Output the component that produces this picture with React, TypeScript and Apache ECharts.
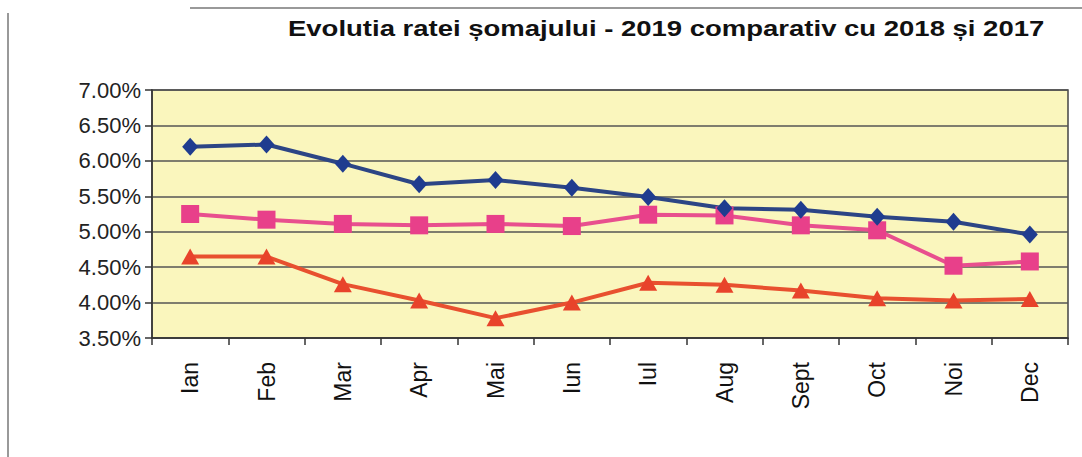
import React, { useEffect, useRef } from "react";
import * as echarts from "echarts";

const months = ["Ian", "Feb", "Mar", "Apr", "Mai", "Iun", "Iul", "Aug", "Sept", "Oct", "Noi", "Dec"];
const rate2019 = [6.2, 6.23, 5.96, 5.67, 5.73, 5.62, 5.49, 5.33, 5.31, 5.21, 5.14, 4.96];
const rate2018 = [5.25, 5.17, 5.11, 5.09, 5.11, 5.08, 5.24, 5.23, 5.09, 5.02, 4.52, 4.58];
const rate2017 = [4.65, 4.65, 4.26, 4.03, 3.78, 4.0, 4.28, 4.25, 4.17, 4.06, 4.03, 4.05];
const yTicks = { min: 3.5, max: 7.0, step: 0.5 };
const titleText = "Evolutia ratei șomajului - 2019 comparativ cu 2018 și 2017";

const FONT = "'Liberation Sans', Arial, Helvetica, sans-serif";

export default function App() {
  const ref = useRef<HTMLDivElement>(null);
  useEffect(() => {
    if (!ref.current) return;
    const chart = echarts.init(ref.current, null, { renderer: "svg" });
    const mkSeries = (name: string, data: number[], color: string, lineColor: string, symbol: string, size: number | number[]) => ({
      name,
      type: "line",
      data,
      symbol,
      symbolSize: size,
      showSymbol: true,
      lineStyle: { color: lineColor, width: 4 },
      itemStyle: { color, borderWidth: 0 },
      z: 3,
    });
    chart.setOption({
      animation: false,
      backgroundColor: "#ffffff",
      grid: { left: 152, right: 14, top: 90, bottom: 119, show: true, backgroundColor: "#faf6bd", borderColor: "#444", borderWidth: 1.5 },
      xAxis: {
        type: "category",
        data: months,
        boundaryGap: true,
        axisLine: { lineStyle: { color: "#333", width: 1.5 } },
        axisTick: { show: true, length: 7, alignWithLabel: false, lineStyle: { color: "#333", width: 1.5 } },
        axisLabel: { rotate: 90, margin: 24, fontFamily: FONT, fontSize: 23, color: "#111", interval: 0 },
      },
      yAxis: {
        type: "value",
        min: yTicks.min,
        max: yTicks.max,
        interval: yTicks.step,
        axisLine: { show: true, lineStyle: { color: "#333", width: 1.5 } },
        axisTick: { show: true, length: 7, lineStyle: { color: "#333", width: 1.5 } },
        splitLine: { show: true, lineStyle: { color: "#555", width: 1.5 } },
        axisLabel: {
          fontFamily: FONT,
          fontSize: 22,
          color: "#222",
          margin: 11,
          formatter: (v: number) => v.toFixed(2) + "%",
        },
      },
      series: [
        mkSeries("2017", rate2017, "#e8432b", "#e8502f", "triangle", [18, 16]),
        mkSeries("2018", rate2018, "#e8408a", "#e84f8e", "rect", 18),
        mkSeries("2019", rate2019, "#1f3c8f", "#2c4585", "diamond", [16, 18]),
      ],
      graphic: [
        { type: "line", shape: { x1: 8, y1: 13, x2: 8, y2: 457 }, style: { stroke: "#777", lineWidth: 1.5 } },
        { type: "line", shape: { x1: 190, y1: 8, x2: 1082, y2: 8 }, style: { stroke: "#777", lineWidth: 1.5 } },
        {
          type: "text",
          x: 288,
          y: 17,
          scaleX: 1.25,
          style: {
            text: titleText,
            font: "bold 22px " + FONT,
            fill: "#111",
            textAlign: "left",
            textVerticalAlign: "top",
          },
        },
      ],
    });
    return () => chart.dispose();
  }, []);
  return <div ref={ref} style={{ position: "fixed", left: 0, top: 0, width: 1082, height: 457 }} />;
}
